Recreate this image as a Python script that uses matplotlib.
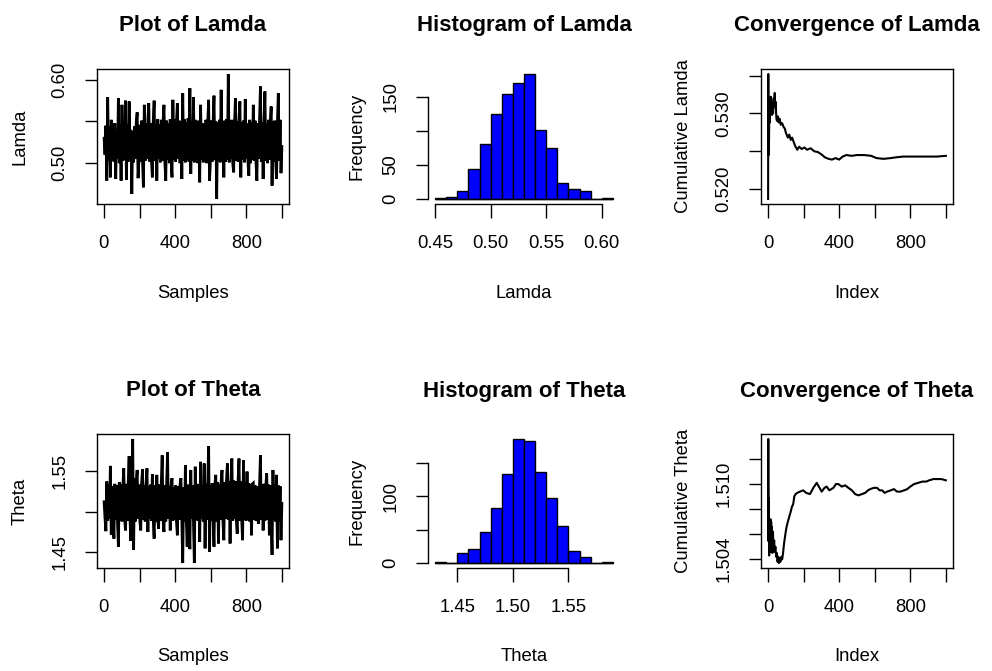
import numpy as np
import matplotlib
matplotlib.use("Agg")
import matplotlib.pyplot as plt

plt.rcParams['font.family'] = ['Liberation Sans', 'DejaVu Sans']

# ---------------- data ----------------
lamda_trace = [
    0.530, 0.510, 0.545, 0.479, 0.579, 0.503, 0.544, 0.483, 0.552, 0.505,
    0.543, 0.502, 0.548, 0.481, 0.541, 0.506, 0.578, 0.500, 0.546, 0.479,
    0.570, 0.503, 0.545, 0.504, 0.575, 0.480, 0.547, 0.502, 0.574, 0.505,
    0.540, 0.463, 0.538, 0.501, 0.544, 0.505, 0.549, 0.561, 0.482, 0.504,
    0.546, 0.502, 0.551, 0.503, 0.471, 0.570, 0.503, 0.548, 0.505, 0.552,
    0.572, 0.502, 0.548, 0.504, 0.483, 0.550, 0.575, 0.503, 0.545, 0.479,
    0.553, 0.505, 0.547, 0.501, 0.552, 0.503, 0.549, 0.570, 0.502, 0.479,
    0.551, 0.504, 0.548, 0.500, 0.553, 0.504, 0.483, 0.576, 0.504, 0.553,
    0.502, 0.549, 0.572, 0.505, 0.551, 0.500, 0.548, 0.481, 0.584, 0.503,
    0.553, 0.501, 0.549, 0.504, 0.554, 0.502, 0.590, 0.487, 0.550, 0.503,
    0.579, 0.501, 0.552, 0.506, 0.547, 0.500, 0.551, 0.477, 0.570, 0.504,
    0.548, 0.501, 0.546, 0.505, 0.552, 0.500, 0.549, 0.576, 0.479, 0.503,
    0.551, 0.502, 0.548, 0.581, 0.504, 0.550, 0.457, 0.549, 0.503, 0.552,
    0.501, 0.588, 0.505, 0.548, 0.483, 0.551, 0.502, 0.553, 0.504, 0.607,
    0.501, 0.549, 0.505, 0.552, 0.500, 0.489, 0.548, 0.578, 0.503, 0.550,
    0.502, 0.553, 0.574, 0.483, 0.549, 0.504, 0.551, 0.501, 0.577, 0.505,
    0.548, 0.502, 0.485, 0.552, 0.500, 0.549, 0.504, 0.570, 0.503, 0.551,
    0.501, 0.479, 0.548, 0.505, 0.552, 0.592, 0.502, 0.549, 0.481, 0.551,
    0.586, 0.503, 0.548, 0.500, 0.552, 0.504, 0.549, 0.568, 0.473, 0.550,
    0.502, 0.551, 0.504, 0.481, 0.549, 0.584, 0.503, 0.552, 0.488, 0.520,
]

theta_trace = [
    1.512, 1.492, 1.476, 1.537, 1.489, 1.533, 1.491, 1.556, 1.472, 1.531,
    1.488, 1.467, 1.534, 1.490, 1.532, 1.487, 1.457, 1.536, 1.490, 1.533,
    1.488, 1.531, 1.553, 1.491, 1.477, 1.534, 1.489, 1.536, 1.568, 1.490,
    1.464, 1.538, 1.589, 1.453, 1.541, 1.488, 1.537, 1.551, 1.491, 1.533,
    1.489, 1.477, 1.535, 1.552, 1.490, 1.532, 1.488, 1.534, 1.553, 1.475,
    1.531, 1.491, 1.533, 1.489, 1.546, 1.490, 1.467, 1.532, 1.488, 1.545,
    1.491, 1.479, 1.533, 1.489, 1.535, 1.569, 1.490, 1.475, 1.532, 1.488,
    1.534, 1.573, 1.491, 1.531, 1.477, 1.533, 1.541, 1.489, 1.530, 1.490,
    1.532, 1.488, 1.471, 1.531, 1.490, 1.533, 1.541, 1.489, 1.437, 1.530,
    1.488, 1.557, 1.490, 1.457, 1.533, 1.489, 1.454, 1.551, 1.491, 1.532,
    1.488, 1.437, 1.555, 1.490, 1.534, 1.489, 1.533, 1.463, 1.561, 1.491,
    1.532, 1.488, 1.559, 1.455, 1.534, 1.490, 1.533, 1.580, 1.451, 1.532,
    1.489, 1.535, 1.490, 1.457, 1.533, 1.545, 1.488, 1.536, 1.461, 1.534,
    1.490, 1.537, 1.551, 1.489, 1.465, 1.536, 1.491, 1.538, 1.559, 1.490,
    1.537, 1.461, 1.539, 1.565, 1.489, 1.538, 1.491, 1.537, 1.490, 1.473,
    1.539, 1.565, 1.489, 1.537, 1.491, 1.465, 1.563, 1.490, 1.536, 1.489,
    1.549, 1.491, 1.535, 1.488, 1.533, 1.471, 1.534, 1.535, 1.490, 1.532,
    1.489, 1.531, 1.491, 1.485, 1.533, 1.569, 1.490, 1.532, 1.477, 1.534,
    1.489, 1.531, 1.547, 1.490, 1.533, 1.471, 1.532, 1.489, 1.447, 1.551,
    1.490, 1.533, 1.488, 1.545, 1.455, 1.532, 1.489, 1.531, 1.465, 1.510,
]

lamda_breaks = [0.45, 0.46, 0.47, 0.48, 0.49, 0.50, 0.51, 0.52, 0.53,
                0.54, 0.55, 0.56, 0.57, 0.58, 0.59, 0.60, 0.61]
lamda_counts = [1, 3, 11, 44, 81, 124, 153, 170, 183, 101, 75, 23, 15, 11, 0, 1]

theta_breaks = [1.43, 1.44, 1.45, 1.46, 1.47, 1.48, 1.49, 1.50, 1.51,
                1.52, 1.53, 1.54, 1.55, 1.56, 1.57, 1.58, 1.59]
theta_counts = [1, 0, 15, 21, 47, 83, 134, 186, 183, 136, 97, 56, 18, 9, 0, 1]

lamda_conv_idx = [1, 2, 3, 4, 5, 6, 8, 10, 12, 14, 16, 18, 20, 23, 26, 29, 32,
                  35, 38, 41, 44, 46, 48, 52, 56, 60, 66, 72, 80, 88, 95, 100,
                  105, 112, 120, 128, 136, 145, 155, 165, 175, 190, 205, 220,
                  240, 260, 280, 300, 320, 340, 360, 380, 400, 420, 440, 470,
                  500, 540, 580, 610, 650, 690, 720, 760, 800, 850, 900, 950, 1000]
lamda_conv_val = [0.5187, 0.5352, 0.5262, 0.5245, 0.5290, 0.5266, 0.5305, 0.5288,
                  0.5318, 0.5300, 0.5322, 0.5305, 0.5315, 0.5298, 0.5312, 0.5300,
                  0.5320, 0.5308, 0.5327, 0.5310, 0.5315, 0.5300, 0.5292, 0.5290,
                  0.5296, 0.5288, 0.5293, 0.5285, 0.5287, 0.5282, 0.5280, 0.5275,
                  0.5272, 0.5268, 0.5272, 0.5265, 0.5268, 0.5262, 0.5256, 0.5252,
                  0.5256, 0.5253, 0.5255, 0.5252, 0.5254, 0.5250, 0.5249, 0.5246,
                  0.5242, 0.5240, 0.5239, 0.5241, 0.5239, 0.5243, 0.5245, 0.5244,
                  0.5245, 0.5245, 0.5244, 0.5241, 0.5240, 0.5241, 0.5242, 0.5243,
                  0.5243, 0.5243, 0.5243, 0.5243, 0.5244]

theta_conv_idx = [1, 2, 3, 4, 5, 6, 7, 8, 9, 10, 12, 14, 16, 18, 20, 22, 25, 28,
                  31, 35, 38, 42, 46, 50, 54, 58, 62, 66, 70, 75, 80, 85, 90, 95,
                  100, 105, 112, 120, 128, 135, 142, 148, 155, 165, 180, 198, 215,
                  236, 255, 274, 290, 302, 318, 330, 345, 368, 382, 396, 415, 434,
                  452, 472, 490, 509, 528, 547, 562, 575, 595, 613, 628, 642, 656,
                  670, 690, 708, 725, 745, 765, 783, 800, 821, 845, 868, 890, 906,
                  930, 953, 975, 1000]
theta_conv_val = [1.5055, 1.5136, 1.5080, 1.5055, 1.5089, 1.5060, 1.5043, 1.5070,
                  1.5048, 1.5068, 1.5046, 1.5072, 1.5050, 1.5070, 1.5047, 1.5066,
                  1.5045, 1.5062, 1.5048, 1.5055, 1.5046, 1.5050, 1.5042, 1.5045,
                  1.5038, 1.5042, 1.5037, 1.5041, 1.5038, 1.5042, 1.5040, 1.5045,
                  1.5052, 1.5057, 1.5062, 1.5066, 1.5070, 1.5074, 1.5078, 1.5082,
                  1.5084, 1.5090, 1.5092, 1.5093, 1.5094, 1.5095, 1.5093, 1.5092,
                  1.5097, 1.5101, 1.5097, 1.5094, 1.5097, 1.5098, 1.5095, 1.5097,
                  1.5100, 1.5100, 1.5098, 1.5099, 1.5097, 1.5095, 1.5092, 1.5091,
                  1.5092, 1.5093, 1.5095, 1.5096, 1.5097, 1.5097, 1.5095, 1.5095,
                  1.5093, 1.5094, 1.5095, 1.5096, 1.5094, 1.5094, 1.5095, 1.5096,
                  1.5098, 1.5100, 1.5101, 1.5102, 1.5102, 1.5103, 1.5104, 1.5104,
                  1.5104, 1.5103]

idx_ticks = [0, 200, 400, 600, 800, 1000]
idx_labels = ['0', '', '400', '', '800', '']

# ---------------- figure ----------------
W, H = 992, 671
fig = plt.figure(figsize=(W / 100, H / 100), dpi=100)

FS = 13.3
TFS = 16
LW_AX = 1.0

col_left = [97, 428, 761]
col_w = 192
row_top = [69, 434]
row_h = [135, 134]


def make_ax(r, c):
    left = col_left[c] / W
    bottom = 1 - (row_top[r] + row_h[r]) / H
    return fig.add_axes([left, bottom, col_w / W, row_h[r] / H])


def style(ax, title, xlabel, ylabel, hist=False):
    ax.set_title(title, fontsize=TFS, fontweight='bold', pad=27)
    ax.set_xlabel(xlabel, fontsize=FS)
    ax.set_ylabel(ylabel, fontsize=FS)
    ax.xaxis.set_label_coords(0.5, -89 / 135)
    ax.xaxis.label.set_va('center')
    off = -71 if hist else -77
    ax.yaxis.set_label_coords(off / col_w, 0.5)
    ax.yaxis.label.set_va('center')
    ax.tick_params(axis='x', length=10, width=LW_AX, pad=12.5, labelsize=FS)
    ax.tick_params(axis='y', length=8.5, width=LW_AX, pad=12, labelsize=FS)
    for s in ax.spines.values():
        s.set_linewidth(LW_AX)
    for lab in ax.get_yticklabels():
        lab.set_rotation(90)
        lab.set_va('center')


def trace(ax, vals, title, ylabel, yticks, ylabels):
    xs = np.linspace(1, 1000, len(vals))
    ax.plot(xs, vals, color='black', lw=2.0, solid_joinstyle='miter')
    ax.margins(x=0.04, y=0.04)
    ax.set_xticks(idx_ticks)
    ax.set_xticklabels(idx_labels)
    ax.set_yticks(yticks)
    ax.set_yticklabels(ylabels)
    style(ax, title, 'Samples', ylabel)


def histo(ax, breaks, counts, title, xlabel, xticks, xlabels, ylabels):
    ax.use_sticky_edges = False
    widths = np.diff(breaks)
    ax.hlines(0, breaks[0], breaks[-1], color='black', lw=1.0, zorder=3)
    ax.bar(breaks[:-1], counts, width=widths, align='edge', color='#0000FF',
           edgecolor='black', linewidth=1.0, zorder=2)
    ax.margins(x=0.04, y=0.04)
    ax.set_xticks(xticks)
    ax.set_xticklabels(xlabels)
    ax.set_yticks([0, 50, 100, 150])
    ax.set_yticklabels(ylabels)
    ax.spines['top'].set_visible(False)
    ax.spines['right'].set_visible(False)
    ax.spines['left'].set_bounds(0, 150)
    ax.spines['bottom'].set_bounds(xticks[0], xticks[-1])
    style(ax, title, xlabel, 'Frequency', hist=True)


def conv(ax, idx, vals, title, ylabel, yticks, ylabels):
    ax.plot(idx, vals, color='black', lw=1.5)
    ax.set_xlim(-39, 1040)
    ax.margins(y=0.04)
    ax.set_xticks(idx_ticks)
    ax.set_xticklabels(idx_labels)
    ax.set_yticks(yticks)
    ax.set_yticklabels(ylabels)
    style(ax, title, 'Index', ylabel)


ax = make_ax(0, 0)
trace(ax, lamda_trace, 'Plot of Lamda', 'Lamda', [0.50, 0.55, 0.60], ['0.50', '', '0.60'])
ax = make_ax(0, 1)
histo(ax, lamda_breaks, lamda_counts, 'Histogram of Lamda', 'Lamda',
      [0.45, 0.50, 0.55, 0.60], ['0.45', '0.50', '0.55', '0.60'],
      ['0', '50', '', '150'])
ax = make_ax(0, 2)
conv(ax, lamda_conv_idx, lamda_conv_val, 'Convergence of Lamda', 'Cumulative Lamda',
     [0.520, 0.525, 0.530, 0.535], ['0.520', '', '0.530', ''])

ax = make_ax(1, 0)
trace(ax, theta_trace, 'Plot of Theta', 'Theta', [1.45, 1.50, 1.55], ['1.45', '', '1.55'])
ax = make_ax(1, 1)
histo(ax, theta_breaks, theta_counts, 'Histogram of Theta', 'Theta',
      [1.45, 1.50, 1.55], ['1.45', '1.50', '1.55'],
      ['0', '', '100', ''])
ax = make_ax(1, 2)
conv(ax, theta_conv_idx, theta_conv_val, 'Convergence of Theta', 'Cumulative Theta',
     [1.504, 1.506, 1.508, 1.510, 1.512], ['1.504', '', '', '1.510', ''])

fig.savefig('out.png', dpi=100)
